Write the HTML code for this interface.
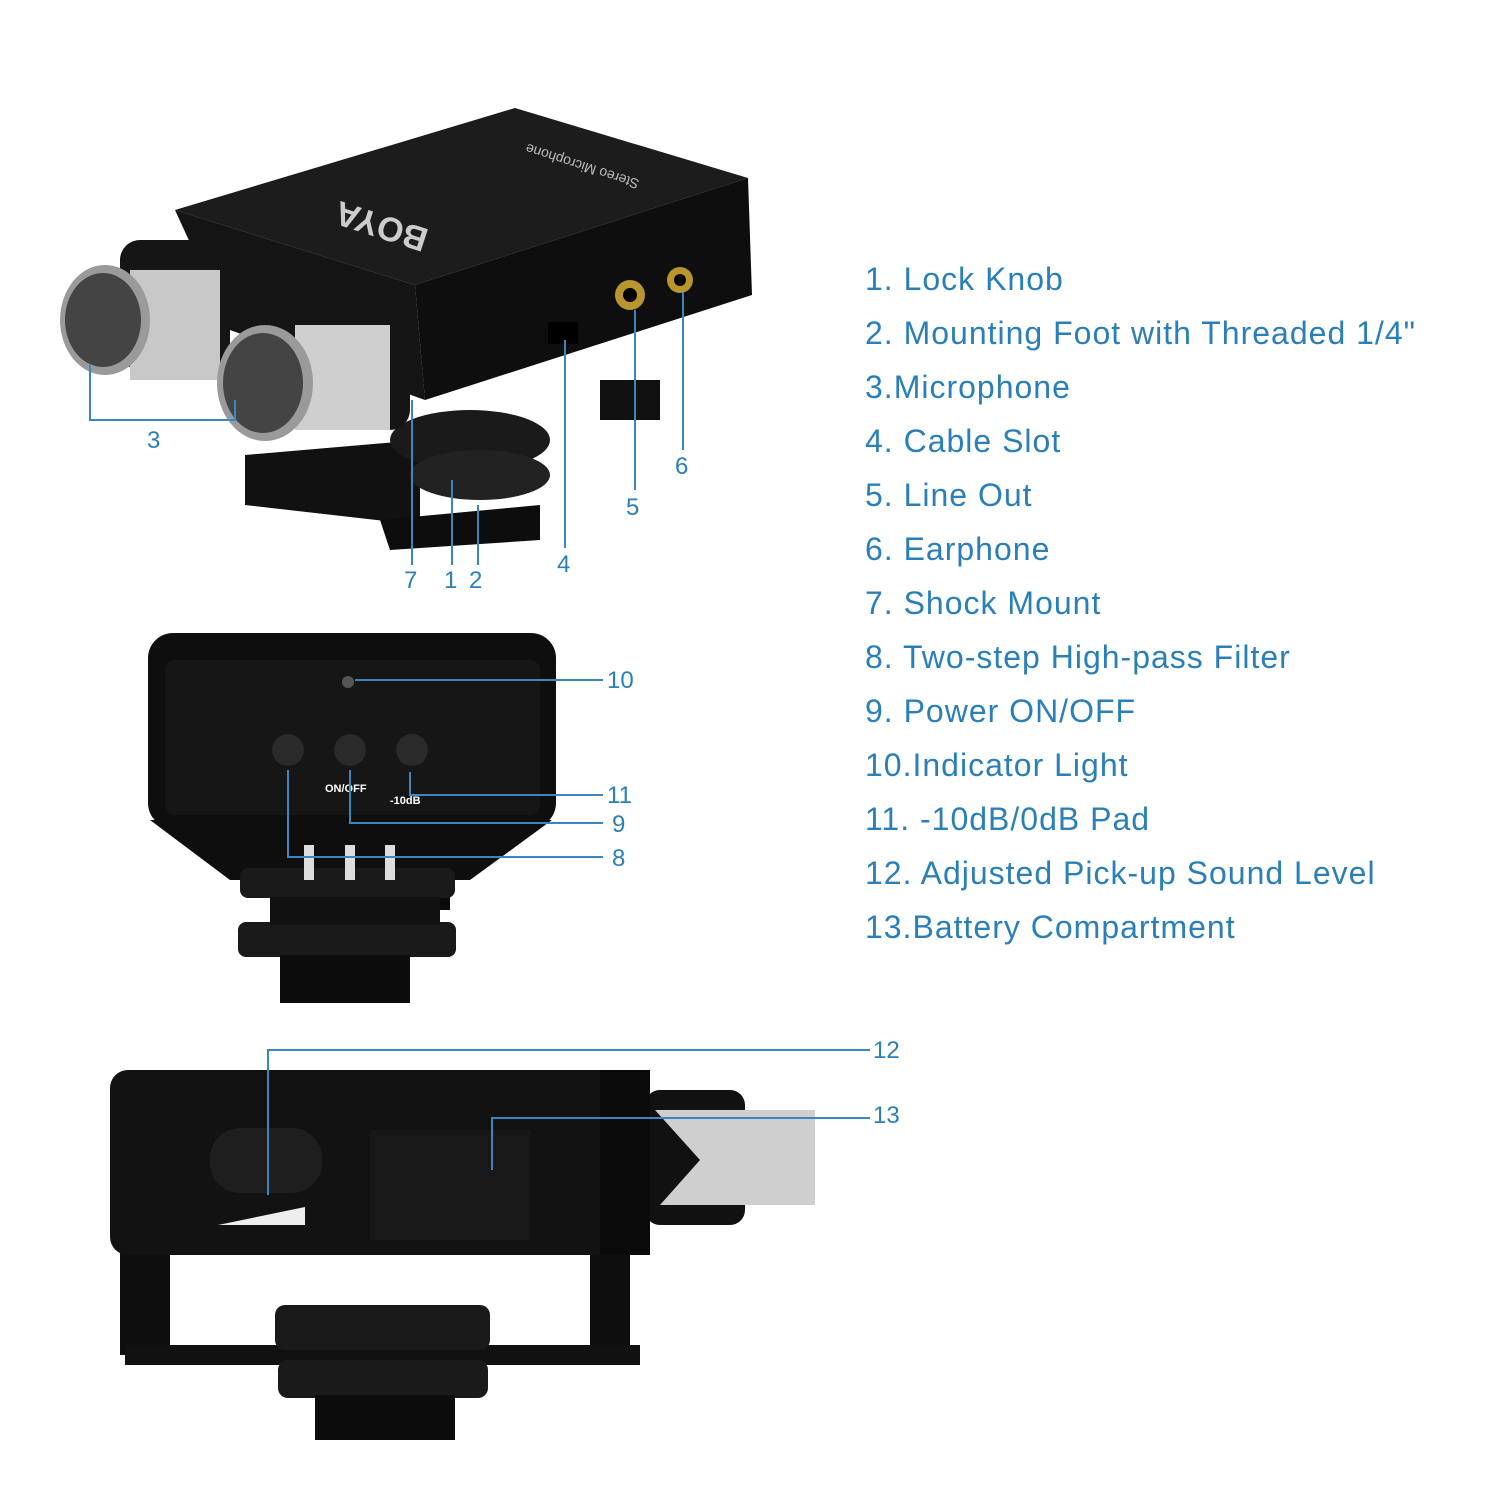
<!DOCTYPE html>
<html><head><meta charset="utf-8"><style>
html,body{margin:0;padding:0;background:#fff;}
svg{display:block}
.l{font-family:"Liberation Sans",sans-serif;font-size:32px;letter-spacing:1px;fill:#2b7fb8;}
.n{font-family:"Liberation Sans",sans-serif;font-size:24px;fill:#2b7fb8;}
.w{font-family:"Liberation Sans",sans-serif;font-size:11px;fill:#fff;font-weight:bold}
</style></head><body>
<svg width="1500" height="1500" viewBox="0 0 1500 1500" xmlns="http://www.w3.org/2000/svg">
<rect width="1500" height="1500" fill="#fff"/>
<!-- TOP DEVICE -->
<polygon points="245,455 420,440 420,525 245,505" fill="#111"/>
<polygon points="380,520 540,505 540,540 390,550" fill="#0d0d0d"/>
<rect x="600" y="380" width="60" height="40" fill="#111"/>
<ellipse cx="470" cy="440" rx="80" ry="30" fill="#1a1a1a"/>
<ellipse cx="480" cy="475" rx="70" ry="25" fill="#222"/>
<polygon points="175,210 515,108 748,178 415,285" fill="#1c1c1c"/>
<polygon points="415,285 748,178 752,295 425,400" fill="#0e0e0e"/>
<polygon points="175,210 415,285 425,400 230,330" fill="#151515"/>
<text x="0" y="0" transform="translate(430,230) rotate(198)" font-family="Liberation Sans" font-size="34" font-weight="bold" fill="#ccc">BOYA</text>
<text x="0" y="0" transform="translate(640,180) rotate(198)" font-family="Liberation Sans" font-size="14" fill="#bbb">Stereo Microphone</text>
<circle cx="630" cy="295" r="15" fill="#b8952e"/><circle cx="630" cy="295" r="7" fill="#000"/>
<circle cx="680" cy="280" r="13" fill="#b8952e"/><circle cx="680" cy="280" r="6" fill="#000"/>
<rect x="548" y="322" width="30" height="22" fill="#000"/>
<rect x="120" y="240" width="110" height="130" rx="20" fill="#151515"/>
<rect x="130" y="270" width="90" height="110" fill="#c8c8c8"/>
<ellipse cx="105" cy="320" rx="45" ry="55" fill="#9a9a9a"/>
<ellipse cx="103" cy="320" rx="38" ry="47" fill="#444"/>
<rect x="290" y="290" width="120" height="140" rx="20" fill="#151515"/>
<rect x="295" y="325" width="95" height="105" fill="#cfcfcf"/>
<ellipse cx="265" cy="383" rx="48" ry="58" fill="#9a9a9a"/>
<ellipse cx="263" cy="383" rx="40" ry="50" fill="#444"/>
<g stroke="#3b86c0" stroke-width="2" fill="none">
<polyline points="90,365 90,420 235,420 235,400"/>
<line x1="412" y1="400" x2="412" y2="565"/>
<line x1="452" y1="480" x2="452" y2="565"/>
<line x1="478" y1="505" x2="478" y2="565"/>
<line x1="565" y1="340" x2="565" y2="548"/>
<line x1="635" y1="310" x2="635" y2="490"/>
<line x1="683" y1="292" x2="683" y2="450"/>
</g>
<text class="n" x="147" y="448">3</text>
<text class="n" x="404" y="588">7</text>
<text class="n" x="444" y="588">1</text>
<text class="n" x="469" y="588">2</text>
<text class="n" x="557" y="572">4</text>
<text class="n" x="626" y="515">5</text>
<text class="n" x="675" y="474">6</text>
<!-- MIDDLE DEVICE -->
<polygon points="150,820 552,820 470,880 230,880" fill="#0e0e0e"/>
<rect x="270" y="870" width="180" height="40" fill="#0a0a0a"/>
<rect x="240" y="868" width="215" height="30" rx="8" fill="#1a1a1a"/>
<rect x="238" y="922" width="218" height="35" rx="8" fill="#1a1a1a"/>
<rect x="270" y="897" width="170" height="28" fill="#111"/>
<rect x="280" y="955" width="130" height="48" fill="#0c0c0c"/>
<rect x="148" y="633" width="408" height="195" rx="25" fill="#0e0e0e"/>
<rect x="165" y="660" width="375" height="155" rx="10" fill="#161616"/>
<circle cx="348" cy="682" r="6" fill="#555"/>
<circle cx="288" cy="750" r="16" fill="#2a2a2a"/>
<circle cx="350" cy="750" r="16" fill="#2a2a2a"/>
<circle cx="412" cy="750" r="16" fill="#2a2a2a"/>
<text class="w" x="325" y="792">ON/OFF</text>
<text class="w" x="390" y="804">-10dB</text>
<rect x="304" y="845" width="10" height="35" fill="#ddd"/>
<rect x="345" y="845" width="10" height="35" fill="#ddd"/>
<rect x="385" y="845" width="10" height="35" fill="#ddd"/>
<g stroke="#3b86c0" stroke-width="2" fill="none">
<line x1="355" y1="680" x2="603" y2="680"/>
<polyline points="410,772 410,795 603,795"/>
<polyline points="350,770 350,823 603,823"/>
<polyline points="288,770 288,857 603,857"/>
</g>
<text class="n" x="607" y="688">10</text>
<text class="n" x="607" y="803">11</text>
<text class="n" x="612" y="832">9</text>
<text class="n" x="612" y="866">8</text>
<!-- BOTTOM DEVICE -->
<rect x="645" y="1090" width="100" height="135" rx="15" fill="#111"/>
<polygon points="655,1110 815,1110 815,1205 660,1205 700,1160" fill="#cfcfcf"/>
<rect x="120" y="1250" width="50" height="105" fill="#0e0e0e"/>
<rect x="590" y="1250" width="40" height="105" fill="#0e0e0e"/>
<rect x="125" y="1345" width="515" height="20" fill="#111"/>
<rect x="275" y="1305" width="215" height="45" rx="10" fill="#1a1a1a"/>
<rect x="278" y="1360" width="210" height="38" rx="10" fill="#1a1a1a"/>
<rect x="315" y="1395" width="140" height="45" fill="#0c0c0c"/>
<rect x="110" y="1070" width="535" height="185" rx="18" fill="#121212"/>
<rect x="600" y="1070" width="50" height="185" fill="#0a0a0a"/>
<rect x="210" y="1128" width="112" height="65" rx="30" fill="#1e1e1e"/>
<rect x="370" y="1130" width="160" height="110" fill="#181818"/>
<polygon points="218,1225 305,1207 305,1225" fill="#eee"/>
<g stroke="#3b86c0" stroke-width="2" fill="none">
<polyline points="268,1195 268,1050 870,1050"/>
<polyline points="492,1170 492,1118 870,1118"/>
</g>
<text class="n" x="873" y="1058">12</text>
<text class="n" x="873" y="1123">13</text>
<!-- LIST -->
<text class="l" x="865" y="290">1. Lock Knob</text>
<text class="l" x="865" y="344">2. Mounting Foot with Threaded 1/4"</text>
<text class="l" x="865" y="398">3.Microphone</text>
<text class="l" x="865" y="452">4. Cable Slot</text>
<text class="l" x="865" y="506">5. Line Out</text>
<text class="l" x="865" y="560">6. Earphone</text>
<text class="l" x="865" y="614">7. Shock Mount</text>
<text class="l" x="865" y="668">8. Two-step High-pass Filter</text>
<text class="l" x="865" y="722">9. Power ON/OFF</text>
<text class="l" x="865" y="776">10.Indicator Light</text>
<text class="l" x="865" y="830">11. -10dB/0dB Pad</text>
<text class="l" x="865" y="884">12. Adjusted Pick-up Sound Level</text>
<text class="l" x="865" y="938">13.Battery Compartment</text>
</svg>
</body></html>
